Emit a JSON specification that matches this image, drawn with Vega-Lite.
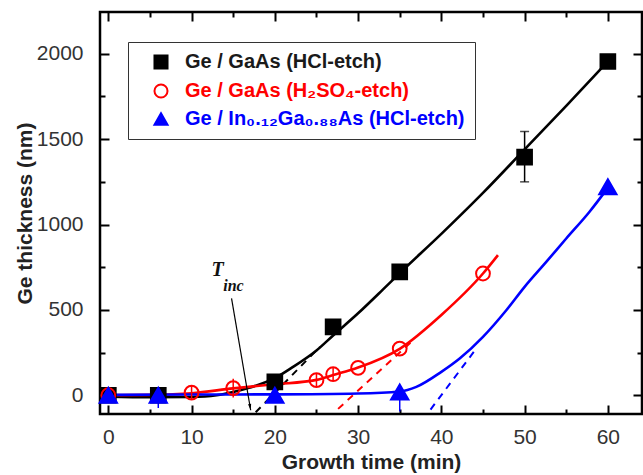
{
  "$schema": "https://vega.github.io/schema/vega-lite/v6.json",
  "width": 542,
  "height": 402,
  "autosize": {"type": "none"},
  "padding": {"left": 100, "top": 12, "right": 1, "bottom": 61},
  "config": {
    "view": {"stroke": "black", "strokeWidth": 2.5},
    "font": "Liberation Sans",
    "axis": {"grid": false, "domain": false, "labelFlush": false, "labelOverlap": false, "tickColor": "black", "tickWidth": 2}
  },
  "datasets": {
    "pts": [
      {"s": "Ge / GaAs (HCl-etch)", "x": 0, "y": 0},
      {"s": "Ge / GaAs (HCl-etch)", "x": 6, "y": 0},
      {"s": "Ge / GaAs (HCl-etch)", "x": 20, "y": 78},
      {"s": "Ge / GaAs (HCl-etch)", "x": 27, "y": 400},
      {"s": "Ge / GaAs (HCl-etch)", "x": 35, "y": 723},
      {"s": "Ge / GaAs (HCl-etch)", "x": 50, "y": 1395},
      {"s": "Ge / GaAs (HCl-etch)", "x": 60, "y": 1955},
      {"s": "Ge / GaAs (H₂SO₄-etch)", "x": 0, "y": 0},
      {"s": "Ge / GaAs (H₂SO₄-etch)", "x": 10, "y": 15},
      {"s": "Ge / GaAs (H₂SO₄-etch)", "x": 15, "y": 42},
      {"s": "Ge / GaAs (H₂SO₄-etch)", "x": 25, "y": 88},
      {"s": "Ge / GaAs (H₂SO₄-etch)", "x": 27, "y": 123},
      {"s": "Ge / GaAs (H₂SO₄-etch)", "x": 30, "y": 160},
      {"s": "Ge / GaAs (H₂SO₄-etch)", "x": 35, "y": 273},
      {"s": "Ge / GaAs (H₂SO₄-etch)", "x": 45, "y": 713},
      {"s": "Ge / In₀.₁₂Ga₀.₈₈As (HCl-etch)", "x": 0, "y": 0},
      {"s": "Ge / In₀.₁₂Ga₀.₈₈As (HCl-etch)", "x": 6, "y": 0},
      {"s": "Ge / In₀.₁₂Ga₀.₈₈As (HCl-etch)", "x": 20, "y": 0},
      {"s": "Ge / In₀.₁₂Ga₀.₈₈As (HCl-etch)", "x": 35, "y": 19},
      {"s": "Ge / In₀.₁₂Ga₀.₈₈As (HCl-etch)", "x": 60, "y": 1222}
    ],
    "fits": [
      {"s": "Ge / GaAs (HCl-etch)", "x": 0, "y": -8},
      {"s": "Ge / GaAs (HCl-etch)", "x": 5, "y": -12},
      {"s": "Ge / GaAs (HCl-etch)", "x": 10, "y": -10},
      {"s": "Ge / GaAs (HCl-etch)", "x": 13, "y": 0},
      {"s": "Ge / GaAs (HCl-etch)", "x": 15, "y": 19},
      {"s": "Ge / GaAs (HCl-etch)", "x": 17, "y": 45},
      {"s": "Ge / GaAs (HCl-etch)", "x": 20, "y": 100},
      {"s": "Ge / GaAs (HCl-etch)", "x": 22, "y": 160},
      {"s": "Ge / GaAs (HCl-etch)", "x": 25, "y": 262},
      {"s": "Ge / GaAs (HCl-etch)", "x": 27, "y": 350},
      {"s": "Ge / GaAs (HCl-etch)", "x": 30, "y": 480},
      {"s": "Ge / GaAs (HCl-etch)", "x": 33, "y": 620},
      {"s": "Ge / GaAs (HCl-etch)", "x": 35, "y": 715},
      {"s": "Ge / GaAs (HCl-etch)", "x": 40, "y": 945},
      {"s": "Ge / GaAs (HCl-etch)", "x": 45, "y": 1185},
      {"s": "Ge / GaAs (HCl-etch)", "x": 50, "y": 1440},
      {"s": "Ge / GaAs (HCl-etch)", "x": 55, "y": 1695},
      {"s": "Ge / GaAs (HCl-etch)", "x": 60, "y": 1955},
      {"s": "Ge / GaAs (H₂SO₄-etch)", "x": 0, "y": 0},
      {"s": "Ge / GaAs (H₂SO₄-etch)", "x": 5, "y": 2},
      {"s": "Ge / GaAs (H₂SO₄-etch)", "x": 10, "y": 12},
      {"s": "Ge / GaAs (H₂SO₄-etch)", "x": 15, "y": 40},
      {"s": "Ge / GaAs (H₂SO₄-etch)", "x": 20, "y": 64},
      {"s": "Ge / GaAs (H₂SO₄-etch)", "x": 25, "y": 90},
      {"s": "Ge / GaAs (H₂SO₄-etch)", "x": 27, "y": 118},
      {"s": "Ge / GaAs (H₂SO₄-etch)", "x": 30, "y": 162},
      {"s": "Ge / GaAs (H₂SO₄-etch)", "x": 35, "y": 272},
      {"s": "Ge / GaAs (H₂SO₄-etch)", "x": 40, "y": 470},
      {"s": "Ge / GaAs (H₂SO₄-etch)", "x": 45, "y": 713},
      {"s": "Ge / GaAs (H₂SO₄-etch)", "x": 46.8, "y": 821},
      {"s": "Ge / In₀.₁₂Ga₀.₈₈As (HCl-etch)", "x": 0, "y": 2},
      {"s": "Ge / In₀.₁₂Ga₀.₈₈As (HCl-etch)", "x": 10, "y": 4},
      {"s": "Ge / In₀.₁₂Ga₀.₈₈As (HCl-etch)", "x": 20, "y": 5},
      {"s": "Ge / In₀.₁₂Ga₀.₈₈As (HCl-etch)", "x": 30, "y": 10},
      {"s": "Ge / In₀.₁₂Ga₀.₈₈As (HCl-etch)", "x": 35, "y": 22},
      {"s": "Ge / In₀.₁₂Ga₀.₈₈As (HCl-etch)", "x": 37, "y": 49},
      {"s": "Ge / In₀.₁₂Ga₀.₈₈As (HCl-etch)", "x": 40, "y": 137},
      {"s": "Ge / In₀.₁₂Ga₀.₈₈As (HCl-etch)", "x": 42.2, "y": 215},
      {"s": "Ge / In₀.₁₂Ga₀.₈₈As (HCl-etch)", "x": 45, "y": 342},
      {"s": "Ge / In₀.₁₂Ga₀.₈₈As (HCl-etch)", "x": 47.8, "y": 498},
      {"s": "Ge / In₀.₁₂Ga₀.₈₈As (HCl-etch)", "x": 50, "y": 635},
      {"s": "Ge / In₀.₁₂Ga₀.₈₈As (HCl-etch)", "x": 52.6, "y": 781},
      {"s": "Ge / In₀.₁₂Ga₀.₈₈As (HCl-etch)", "x": 55, "y": 918},
      {"s": "Ge / In₀.₁₂Ga₀.₈₈As (HCl-etch)", "x": 57.8, "y": 1075},
      {"s": "Ge / In₀.₁₂Ga₀.₈₈As (HCl-etch)", "x": 60, "y": 1215}
    ],
    "dashes": [
      {"s": "Ge / GaAs (HCl-etch)", "x": 17.7, "y": -100},
      {"s": "Ge / GaAs (HCl-etch)", "x": 25.4, "y": 283},
      {"s": "Ge / GaAs (H₂SO₄-etch)", "x": 27.6, "y": -80},
      {"s": "Ge / GaAs (H₂SO₄-etch)", "x": 36.6, "y": 322},
      {"s": "Ge / In₀.₁₂Ga₀.₈₈As (HCl-etch)", "x": 38.7, "y": -84},
      {"s": "Ge / In₀.₁₂Ga₀.₈₈As (HCl-etch)", "x": 44.3, "y": 280}
    ],
    "errs": [
      {"s": "Ge / GaAs (HCl-etch)", "x": 50, "lo": 1250, "hi": 1545},
      {"s": "Ge / GaAs (HCl-etch)", "x": 60, "lo": 1920, "hi": 1995},
      {"s": "Ge / GaAs (H₂SO₄-etch)", "x": 10, "lo": -25, "hi": 55},
      {"s": "Ge / GaAs (H₂SO₄-etch)", "x": 15, "lo": -13, "hi": 97},
      {"s": "Ge / GaAs (H₂SO₄-etch)", "x": 25, "lo": 48, "hi": 128},
      {"s": "Ge / GaAs (H₂SO₄-etch)", "x": 27, "lo": 83, "hi": 163},
      {"s": "Ge / In₀.₁₂Ga₀.₈₈As (HCl-etch)", "x": 6, "lo": -75, "hi": 0},
      {"s": "Ge / In₀.₁₂Ga₀.₈₈As (HCl-etch)", "x": 35, "lo": -95, "hi": 19}
    ],
    "caps": [
      {"x": 50, "y": 1250},
      {"x": 50, "y": 1545},
      {"x": 60, "y": 1920},
      {"x": 60, "y": 1995}
    ],
    "arrow": [
      {"x": 14.8, "y": 567},
      {"x": 17.1, "y": -88}
    ],
    "arrowtip": [
      {"x": 17.1, "y": -88}
    ],
    "tbig": [
      {"t": "T", "x": 12.4, "y": 697}
    ],
    "tsub": [
      {"t": "inc", "x": 13.8, "y": 611}
    ]
  },
  "layer": [
    {
      "encoding": {
        "x": {"field": "x", "type": "quantitative", "scale": {"domain": [-1, 64.1], "nice": false, "zero": false},
          "axis": {"orient": "bottom", "values": [0,10,20,30,40,50,60], "tickSize": 9, "offset": -9,
            "labelFontSize": 21, "labelColor": "#333", "labelPadding": 12,
            "title": "Growth time (min)", "titleFontSize": 21, "titleFontWeight": "bold", "titleColor": "#222", "titlePadding": 4}},
        "y": {"field": "y", "type": "quantitative", "scale": {"domain": [-110, 2245], "nice": false, "zero": false},
          "axis": {"orient": "left", "values": [0,500,1000,1500,2000], "tickSize": 9, "offset": -9,
            "labelFontSize": 21, "labelColor": "#333", "labelPadding": 17, "format": "d",
            "title": "Ge thickness (nm)", "titleFontSize": 21, "titleFontWeight": "bold", "titleColor": "#222", "titlePadding": 1}},
        "color": {"condition": [
          {"test": "datum.s === 'Ge / GaAs (H₂SO₄-etch)'", "value": "#ff0000"},
          {"test": "datum.s === 'Ge / In₀.₁₂Ga₀.₈₈As (HCl-etch)'", "value": "#0000ff"}], "value": "black"}
      },
      "layer": [
        {
          "data": {"name": "dashes"},
          "mark": {"type": "line", "strokeWidth": 2, "strokeDash": [7, 6]},
          "encoding": {"detail": {"field": "s"}}
        },
        {
          "data": {"name": "fits"},
          "mark": {"type": "line", "strokeWidth": 2.6, "interpolate": "monotone"},
          "encoding": {"detail": {"field": "s"}}
        },
        {
          "data": {"name": "errs"},
          "mark": {"type": "rule", "strokeWidth": 1.5},
          "encoding": {
            "y": {"field": "lo", "type": "quantitative"},
            "y2": {"field": "hi"}
          }
        },
        {
          "data": {"name": "caps"},
          "mark": {"type": "tick", "orient": "horizontal", "size": 9, "thickness": 1.5},
          "encoding": {"color": {"value": "black"}}
        },
        {
          "data": {"name": "pts"},
          "mark": {"type": "point", "strokeWidth": 2, "opacity": 1},
          "encoding": {
            "color": null,
            "size": {"condition": [
              {"test": "datum.s === 'Ge / GaAs (H₂SO₄-etch)'", "value": 190},
              {"test": "datum.s === 'Ge / In₀.₁₂Ga₀.₈₈As (HCl-etch)'", "value": 300}], "value": 215},
            "shape": {"field": "s", "type": "nominal",
              "scale": {"domain": ["Ge / GaAs (HCl-etch)", "Ge / GaAs (H₂SO₄-etch)", "Ge / In₀.₁₂Ga₀.₈₈As (HCl-etch)"], "range": ["square", "circle", "triangle-up"]},
              "legend": {"title": null, "orient": "none", "legendX": 28, "legendY": 30,
                "strokeColor": "#333", "padding": 10, "rowPadding": 7,
                "symbolOffset": 13, "labelOffset": 14, "symbolSize": 170, "symbolStrokeWidth": 2,
                "labelFontSize": 20, "labelFontWeight": "bold", "labelFont": "Liberation Sans", "labelLimit": 400,
                "labelColor": {"expr": "datum.value === 'Ge / GaAs (HCl-etch)' ? '#1a1a1a' : (datum.value === 'Ge / GaAs (H₂SO₄-etch)' ? '#ff0000' : '#0000ff')"}}},
            "fill": {"field": "s", "type": "nominal",
              "scale": {"domain": ["Ge / GaAs (HCl-etch)", "Ge / GaAs (H₂SO₄-etch)", "Ge / In₀.₁₂Ga₀.₈₈As (HCl-etch)"], "range": ["black", "transparent", "#0000ff"]}},
            "stroke": {"field": "s", "type": "nominal",
              "scale": {"domain": ["Ge / GaAs (HCl-etch)", "Ge / GaAs (H₂SO₄-etch)", "Ge / In₀.₁₂Ga₀.₈₈As (HCl-etch)"], "range": ["black", "#ff0000", "#0000ff"]}}
          }
        },
        {
          "data": {"name": "arrow"},
          "mark": {"type": "line", "strokeWidth": 1.2},
          "encoding": {"color": {"value": "black"}}
        },
        {
          "data": {"name": "arrowtip"},
          "mark": {"type": "point", "shape": "M0,0L-0.5,-2L0.5,-2Z", "size": 40, "filled": true, "angle": 350, "opacity": 1},
          "encoding": {"color": {"value": "black"}}
        },
        {
          "data": {"name": "tbig"},
          "mark": {"type": "text", "font": "Liberation Serif", "fontWeight": "bold", "fontStyle": "italic", "fontSize": 20, "align": "left", "baseline": "alphabetic"},
          "encoding": {"text": {"field": "t"}, "color": {"value": "#111"}}
        },
        {
          "data": {"name": "tsub"},
          "mark": {"type": "text", "font": "Liberation Serif", "fontWeight": "bold", "fontStyle": "italic", "fontSize": 16, "align": "left", "baseline": "alphabetic"},
          "encoding": {"text": {"field": "t"}, "color": {"value": "#111"}}
        }
      ]
    },
    {
      "data": {"name": "pts"},
      "mark": {"type": "point", "opacity": 0},
      "encoding": {
        "x": {"field": "x", "type": "quantitative", "scale": {"domain": [-1, 64.1], "nice": false, "zero": false},
          "axis": {"orient": "bottom", "values": [5,15,25,35,45,55], "labels": false, "title": null, "tickSize": 5, "offset": -5}},
        "y": {"field": "y", "type": "quantitative", "scale": {"domain": [-110, 2245], "nice": false, "zero": false},
          "axis": {"orient": "left", "values": [250,750,1250,1750], "labels": false, "title": null, "tickSize": 5, "offset": -5}}
      }
    },
    {
      "data": {"name": "pts"},
      "mark": {"type": "point", "opacity": 0},
      "encoding": {
        "x": {"field": "x", "type": "quantitative", "scale": {"domain": [-1, 64.1], "nice": false, "zero": false},
          "axis": {"orient": "top", "values": [0,10,20,30,40,50,60], "labels": false, "title": null, "tickSize": 9, "offset": -9}},
        "y": {"field": "y", "type": "quantitative", "scale": {"domain": [-110, 2245], "nice": false, "zero": false},
          "axis": {"orient": "right", "values": [0,500,1000,1500,2000], "labels": false, "title": null, "tickSize": 9, "offset": -9}}
      }
    },
    {
      "data": {"name": "pts"},
      "mark": {"type": "point", "opacity": 0},
      "encoding": {
        "x": {"field": "x", "type": "quantitative", "scale": {"domain": [-1, 64.1], "nice": false, "zero": false},
          "axis": {"orient": "top", "values": [5,15,25,35,45,55], "labels": false, "title": null, "tickSize": 5, "offset": -5}},
        "y": {"field": "y", "type": "quantitative", "scale": {"domain": [-110, 2245], "nice": false, "zero": false},
          "axis": {"orient": "right", "values": [250,750,1250,1750], "labels": false, "title": null, "tickSize": 5, "offset": -5}}
      }
    }
  ],
  "resolve": {"axis": {"x": "independent", "y": "independent"}}
}
